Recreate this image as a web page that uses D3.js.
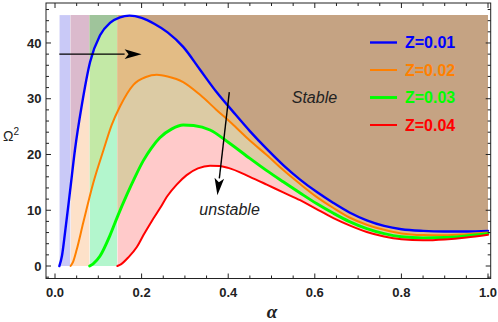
<!DOCTYPE html>
<html><head><meta charset="utf-8">
<script src="https://cdn.jsdelivr.net/npm/d3@7"></script>
<style>body{margin:0;background:#fff}svg{display:block}</style>
</head><body>
<svg id="chart" width="498" height="322"></svg>
<script>
// ---------- data ----------
const seriesNames = ["Z=0.01", "Z=0.02", "Z=0.03", "Z=0.04"];
const alphaZ1 = [0.010,0.016,0.023,0.035,0.046,0.062,0.081,0.104,0.127,0.150,0.172,0.200,0.230,0.260,0.296,0.335,0.373,0.412,0.450,0.489,0.527,0.566,0.604,0.643,0.680,0.720,0.760,0.800,0.850,0.900,0.950,1.000];
const omegaZ1 = [0,1.8,5.9,13.6,20.8,28.9,36.6,41.4,43.6,44.6,44.9,44.5,43.4,41.9,39.3,35.2,31.2,27.6,24.2,21.0,18.1,15.5,13.3,11.3,9.6,8.2,7.2,6.6,6.3,6.2,6.2,6.3];
const alphaZ2 = [0.036,0.042,0.050,0.065,0.088,0.112,0.131,0.150,0.181,0.210,0.235,0.260,0.296,0.335,0.373,0.412,0.450,0.489,0.527,0.566,0.604,0.643,0.680,0.720,0.760,0.800,0.850,0.900,0.950,1.000];
const omegaZ2 = [0,0.8,2.9,7.7,14.8,20.8,25.3,28.6,32.5,33.9,34.3,34.0,33.0,30.7,28.0,25.3,22.5,19.9,17.2,14.7,12.4,10.4,8.7,7.4,6.5,5.85,5.55,5.5,5.7,6.0];
const alphaZ3 = [0.080,0.088,0.104,0.127,0.145,0.166,0.185,0.204,0.223,0.242,0.270,0.296,0.320,0.358,0.400,0.450,0.489,0.527,0.566,0.604,0.643,0.680,0.720,0.760,0.800,0.850,0.900,0.950,1.000];
const omegaZ3 = [0,0.4,1.8,5.5,9.0,12.8,16.0,18.9,21.2,23.0,24.6,25.3,25.2,24.4,22.2,19.3,17.1,15.1,13.1,11.2,9.45,7.95,6.7,5.8,5.25,5.05,5.1,5.4,5.8];
const alphaZ4 = [0.144,0.152,0.170,0.189,0.204,0.223,0.242,0.260,0.281,0.304,0.330,0.358,0.380,0.400,0.450,0.489,0.527,0.566,0.604,0.643,0.680,0.720,0.760,0.800,0.850,0.900,0.950,1.000];
const omegaZ4 = [0,0.3,1.6,3.4,5.5,8.0,10.3,12.6,14.6,16.3,17.5,18.0,17.95,17.6,16.0,14.6,13.2,11.8,10.2,8.6,7.3,6.1,5.3,4.8,4.6,4.75,5.1,5.6];
const xTickValues = [0, 0.2, 0.4, 0.6, 0.8, 1.0];
const xTickLabels = ["0.0", "0.2", "0.4", "0.6", "0.8", "1.0"];
const yTickValues = [0, 10, 20, 30, 40];
const yTickLabels = ["0", "10", "20", "30", "40"];
const regionTop = 45;
const alphaEnd = 1.0;
// arrows: [alphaStart, omegaStart, alphaEnd, omegaEnd]
const arrowH = [0.01, 38.0, 0.2, 38.0];
const arrowD = [0.4025, 31.2, 0.375, 12.7];

// ---------- style ----------
const lineColors = ["#0000ff", "#ff8000", "#00ff00", "#ff0000"];
const lineWidths = [2.4, 2.0, 2.9, 2.0];
// region layers: band index, curve index (-1 = full band), colour
const layers = [
  {band: 0, curve: -1, color: "#c9c9f7"},
  {band: 1, curve: -1, color: "#fde1c9"},
  {band: 1, curve: 0, color: "#dbbacd"},
  {band: 2, curve: -1, color: "#b3f6cd"},
  {band: 2, curve: 1, color: "#c3e9a6"},
  {band: 2, curve: 0, color: "#9fc49b"},
  {band: 3, curve: 3, color: "#ffcaca"},
  {band: 3, curve: 2, color: "#dccba4"},
  {band: 3, curve: 1, color: "#e3bc85"},
  {band: 3, curve: 0, color: "#c5a383"}
];

const alphas = [alphaZ1, alphaZ2, alphaZ3, alphaZ4];
const omegas = [omegaZ1, omegaZ2, omegaZ3, omegaZ4];
const series = seriesNames.map((name, i) => ({
  name, color: lineColors[i], width: lineWidths[i],
  pts: alphas[i].map((a, k) => [a, omegas[i][k]])
}));
const bandEdges = [...alphas.map(a => a[0]), alphaEnd];

const svg = d3.select("#chart");
const L = 46, R = 490.7, T = 3, B = 278.5;
const x = d3.scaleLinear().domain([-0.0208, 1.0062]).range([L, R]);
const y = d3.scaleLinear().domain([-2.24, 47.17]).range([B, T]);

const defs = svg.append("defs");
bandEdges.slice(0, -1).forEach((a, i) => {
  defs.append("clipPath").attr("id", "band" + i)
    .append("rect").attr("x", x(a)).attr("y", T)
    .attr("width", x(bandEdges[i + 1]) - x(a)).attr("height", B - T);
});
defs.append("clipPath").attr("id", "plotclip")
  .append("rect").attr("x", L).attr("y", T).attr("width", R - L).attr("height", B - T);

const area = d3.area().x(d => x(d[0])).y0(d => y(d[1])).y1(y(regionTop)).curve(d3.curveMonotoneX);
const line = d3.line().x(d => x(d[0])).y(d => y(d[1])).curve(d3.curveMonotoneX);

const gFill = svg.append("g");
layers.forEach(l => {
  if (l.curve < 0) {
    gFill.append("rect").attr("clip-path", `url(#band${l.band})`)
      .attr("x", x(bandEdges[l.band])).attr("width", x(bandEdges[l.band + 1]) - x(bandEdges[l.band]))
      .attr("y", y(regionTop)).attr("height", y(0) - y(regionTop))
      .attr("fill", l.color);
  } else {
    gFill.append("path").attr("clip-path", `url(#band${l.band})`)
      .attr("d", area(series[l.curve].pts)).attr("fill", l.color);
  }
});

const gLines = svg.append("g").attr("clip-path", "url(#plotclip)");
series.forEach(s => {
  gLines.append("path").attr("d", line(s.pts)).attr("fill", "none")
    .attr("stroke", s.color).attr("stroke-width", s.width).attr("stroke-linecap", "round");
});

// arrows
function arrow(a) {
  const x1 = x(a[0]), y1 = y(a[1]), x2 = x(a[2]), y2 = y(a[3]);
  const ang = Math.atan2(y2 - y1, x2 - x1);
  const hl = 17, hw = 4.8;
  const bx = x2 - hl * Math.cos(ang), by = y2 - hl * Math.sin(ang);
  svg.append("line").attr("x1", x1).attr("y1", y1).attr("x2", bx).attr("y2", by)
    .attr("stroke", "#000").attr("stroke-width", 1.4);
  const px = -Math.sin(ang) * hw, py = Math.cos(ang) * hw;
  const nx = x2 - (hl - 4) * Math.cos(ang), ny = y2 - (hl - 4) * Math.sin(ang);
  svg.append("path").attr("d", `M${x2},${y2}L${bx + px},${by + py}L${nx},${ny}L${bx - px},${by - py}Z`)
    .attr("fill", "#000");
}
arrow(arrowH);
arrow(arrowD);

// labels in plot
svg.append("text").attr("x", x(0.5467)).attr("y", y(29.15)).text("Stable")
  .attr("font-family", "Liberation Sans, Arial, sans-serif").attr("font-style", "italic")
  .attr("font-size", 16).attr("fill", "#222");
svg.append("text").attr("x", x(0.3333)).attr("y", y(9.15)).text("unstable")
  .attr("font-family", "Liberation Sans, Arial, sans-serif").attr("font-style", "italic")
  .attr("font-size", 16).attr("fill", "#222");

// legend
series.forEach((s, i) => {
  const ly = 42.5 + i * 27.5;
  svg.append("line").attr("x1", 370).attr("x2", 397).attr("y1", ly).attr("y2", ly)
    .attr("stroke", s.color).attr("stroke-width", s.width);
  svg.append("text").attr("x", 405).attr("y", ly + 5.6).text(s.name)
    .attr("font-family", "Liberation Sans, Arial, sans-serif").attr("font-weight", "bold")
    .attr("font-size", 16).attr("fill", s.color);
});

// frame + ticks
const gAx = svg.append("g").attr("stroke", "#222").attr("stroke-width", 1);
gAx.append("rect").attr("x", L).attr("y", T).attr("width", R - L).attr("height", B - T)
  .attr("fill", "none");
const xMinor = d3.range(0, 1.0001, 0.05);
xMinor.forEach(v => {
  const major = xTickValues.some(t => Math.abs(t - v) < 1e-6);
  const len = major ? 5 : 3;
  gAx.append("line").attr("x1", x(v)).attr("x2", x(v)).attr("y1", B).attr("y2", B - len);
  gAx.append("line").attr("x1", x(v)).attr("x2", x(v)).attr("y1", T).attr("y2", T + len);
});
const yMinor = d3.range(-2, 47, 2);
yMinor.forEach(v => {
  const major = yTickValues.includes(v);
  const len = major ? 5 : 3;
  gAx.append("line").attr("y1", y(v)).attr("y2", y(v)).attr("x1", L).attr("x2", L + len);
  gAx.append("line").attr("y1", y(v)).attr("y2", y(v)).attr("x1", R).attr("x2", R - len);
});
const tickFont = "Liberation Sans, Arial, sans-serif";
xTickValues.forEach((v, i) => {
  svg.append("text").attr("x", x(v)).attr("y", 297).attr("text-anchor", "middle")
    .attr("font-family", tickFont).attr("font-weight", "bold").attr("font-size", 13)
    .attr("fill", "#222").text(xTickLabels[i]);
});
yTickValues.forEach((v, i) => {
  svg.append("text").attr("x", 41.5).attr("y", y(v) + 4.6).attr("text-anchor", "end")
    .attr("font-family", tickFont).attr("font-weight", "bold").attr("font-size", 13)
    .attr("fill", "#222").text(yTickLabels[i]);
});
// axis titles
svg.append("text").attr("x", 272).attr("y", 318).attr("text-anchor", "middle")
  .attr("font-family", "Liberation Serif, Times New Roman, serif").attr("font-weight", "bold")
  .attr("font-style", "italic").attr("font-size", 19).attr("fill", "#222").text("α");
const yt = svg.append("text").attr("x", 3).attr("y", 141)
  .attr("font-family", "Liberation Sans, Arial, sans-serif").attr("font-size", 14).attr("fill", "#222");
yt.append("tspan").text("Ω");
yt.append("tspan").attr("dy", -6).attr("font-size", 10).text("2");
</script>
</body></html>
